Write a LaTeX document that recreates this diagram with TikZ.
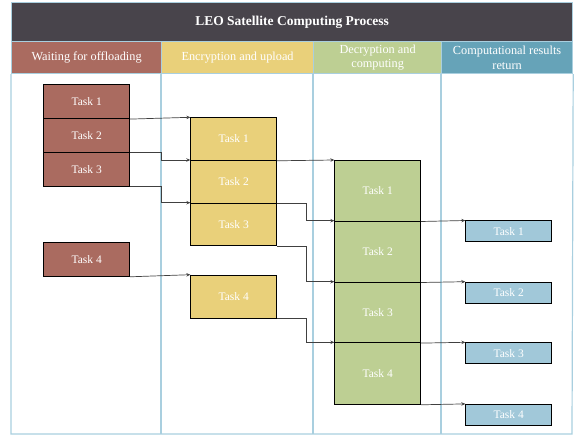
\documentclass[tikz,border=0pt]{standalone}
\usepackage{fontspec}
\setmainfont{Liberation Serif}
\usetikzlibrary{arrows.meta}
\definecolor{titlebg}{HTML}{48444B}
\definecolor{redc}{HTML}{AA6B60}
\definecolor{yelc}{HTML}{E9D07A}
\definecolor{grnc}{HTML}{BDCF93}
\definecolor{hblue}{HTML}{66A3B8}
\definecolor{tblue}{HTML}{A1C8D9}
\definecolor{lblue}{HTML}{A9CFDF}
\tikzset{
  taskbox/.style={draw=black, line width=0.8pt, rectangle, anchor=north west, inner sep=0pt,
     text=white, font=\fontsize{11.5}{13}\selectfont},
  hdr/.style={rectangle, draw=lblue, line width=1.2pt, anchor=north west, inner sep=0pt,
     text=white, align=center, font=\fontsize{12.3}{14.5}\selectfont, minimum height=32pt},
  conn/.style={draw=black!75, line width=0.7pt, -{Stealth[length=4pt,width=3.5pt,inset=1.5pt]}},
}
\begin{document}
\begin{tikzpicture}[x=1pt,y=-1pt]
\useasboundingbox (0,0) rectangle (581,438);
% frame and columns
\node[hdr, fill=titlebg, minimum width=561pt, minimum height=39pt, font=\bfseries\fontsize{13.5}{15}\selectfont] (title) at (11,2) {LEO Satellite Computing Process};
\node[hdr, fill=redc, minimum width=150pt] (h1) at (11,41) {Waiting for offloading};
\node[hdr, fill=yelc, minimum width=152pt] (h2) at (161,41) {Encryption and upload};
\node[hdr, fill=grnc, minimum width=128pt] (h3) at (313,41) {Decryption and\\computing};
\node[hdr, fill=hblue, minimum width=131pt] (h4) at (441,41) {Computational results\\return};
\draw[lblue, line width=1.2pt] (h1.south west) -- (11,434) -- (572,434) -- (h4.south east);
\draw[lblue, line width=1.2pt] (h2.south west) -- (161,434);
\draw[lblue, line width=1.2pt] (h3.south west) -- (313,434);
\draw[lblue, line width=1.2pt] (h4.south west) -- (441,434);
% red tasks
\node[taskbox, fill=redc, minimum width=86pt, minimum height=34pt] (r1) at (43.3,84.3) {Task 1};
\node[taskbox, fill=redc, minimum width=86pt, minimum height=33.4pt] (r2) at (43.3,118.3) {Task 2};
\node[taskbox, fill=redc, minimum width=86pt, minimum height=34.3pt] (r3) at (43.3,151.7) {Task 3};
\node[taskbox, fill=redc, minimum width=86pt, minimum height=33.7pt] (r4) at (43.3,242.3) {Task 4};
% yellow tasks
\node[taskbox, fill=yelc, minimum width=86pt, minimum height=42.7pt] (y1) at (190.3,117.3) {Task 1};
\node[taskbox, fill=yelc, minimum width=86pt, minimum height=42.7pt] (y2) at (190.3,160) {Task 2};
\node[taskbox, fill=yelc, minimum width=86pt, minimum height=42.6pt] (y3) at (190.3,202.7) {Task 3};
\node[taskbox, fill=yelc, minimum width=86pt, minimum height=43.3pt] (y4) at (190.3,274.7) {Task 4};
% green tasks
\node[taskbox, fill=grnc, minimum width=86pt, minimum height=60.7pt] (g1) at (334.3,160) {Task 1};
\node[taskbox, fill=grnc, minimum width=86pt, minimum height=61pt] (g2) at (334.3,220.7) {Task 2};
\node[taskbox, fill=grnc, minimum width=86pt, minimum height=60.6pt] (g3) at (334.3,281.7) {Task 3};
\node[taskbox, fill=grnc, minimum width=86pt, minimum height=61.7pt] (g4) at (334.3,342.3) {Task 4};
% blue tasks
\node[taskbox, fill=tblue, minimum width=86pt, minimum height=21pt] (b1) at (465.3,220.5) {Task 1};
\node[taskbox, fill=tblue, minimum width=86pt, minimum height=21pt] (b2) at (465.3,281.7) {Task 2};
\node[taskbox, fill=tblue, minimum width=86pt, minimum height=21pt] (b3) at (465.3,342.3) {Task 3};
\node[taskbox, fill=tblue, minimum width=86pt, minimum height=21pt] (b4) at (465.3,403.9) {Task 4};
% connectors red -> yellow
\draw[conn] (r1.south east) -- (y1.north west);
\draw[conn] (r2.south east) -- ++(31,0) |- (y2.north west);
\draw[conn] (r3.south east) -- ++(31,0) |- (y3.north west);
\draw[conn] (r4.south east) -- (y4.north west);
% yellow -> green
\draw[conn] (y1.south east) -- (g1.north west);
\draw[conn] (y2.south east) -- ++(29.4,0) |- (g2.north west);
\draw[conn] (y3.south east) -- ++(29.4,0) |- (g3.north west);
\draw[conn] (y4.south east) -- ++(29.4,0) |- (g4.north west);
% green -> blue
\draw[conn] (g1.south east) -- (b1.north west);
\draw[conn] (g2.south east) -- (b2.north west);
\draw[conn] (g3.south east) -- (b3.north west);
\draw[conn] (g4.south east) -- (b4.north west);
\end{tikzpicture}
\end{document}
